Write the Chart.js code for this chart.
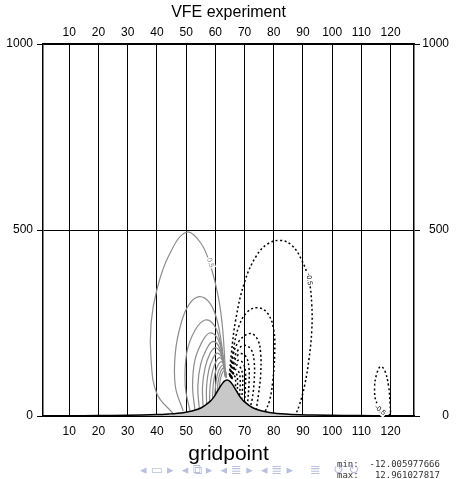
<!DOCTYPE html>
<html lang="en">
<head>
    <meta charset="UTF-8">
    <title>VFE experiment</title>
    <script src="https://cdn.jsdelivr.net/npm/chart.js@4.4.0/dist/chart.umd.min.js"></script>
    <style>
        * { margin: 0; padding: 0; box-sizing: border-box; }
        body { background: #fff; width: 467px; height: 479px; overflow: hidden; }
        #wrap { position: relative; width: 467px; height: 479px; }
    </style>
</head>
<body>
<div id="wrap"><canvas id="chart" width="467" height="479"></canvas></div>
<script>
// axis ticks
const xTicks = [10, 20, 30, 40, 50, 60, 70, 80, 90, 100, 110, 120];
const yTicks = [0, 500, 1000];

// terrain profile
const hillX = [1, 10, 20, 30, 40, 44, 49, 52, 54, 56, 58, 59, 60, 61, 62, 63, 64, 65, 66, 67, 68, 69, 70, 72, 74, 76, 79, 84, 89, 94, 104, 114, 128];
const hillY = [0.5, 0.8, 1.1, 1.9, 3.7, 5.5, 9, 13.5, 18, 26, 38, 46, 57, 70, 83, 93, 97, 93, 83, 70, 57, 46, 38, 26, 18, 13.5, 9, 5.5, 3.5, 2.4, 1.4, 0.9, 0.5];

// positive contours (grey, solid) upstream of the hill
const posContours = [
    [[45.5, 7], [40, 60], [38, 150], [38, 250], [40, 340], [44, 430], [50, 494], [55, 465], [58.5, 400], [61, 320], [62.3, 250], [63, 180], [63.5, 110]],
    [[49, 13], [46.3, 80], [46.3, 170], [48.3, 250], [51, 300], [54.5, 321], [58, 305], [60.5, 260], [62, 200], [63, 140], [63.5, 105]],
    [[51.3, 14], [49.7, 80], [50.2, 170], [53, 230], [56.5, 258], [59.5, 245], [61.5, 205], [62.7, 150], [63.3, 108]],
    [[53, 17], [52.2, 80], [53, 150], [55.5, 200], [58, 223], [60.5, 212], [62, 180], [63, 135], [63.4, 105]],
    [[54.5, 20], [54, 80], [55, 140], [57, 180], [59, 200], [61, 190], [62.3, 160], [63.1, 125], [63.5, 104]],
    [[55.8, 24], [55.6, 80], [56.5, 130], [58, 165], [59.8, 183], [61.5, 175], [62.5, 150], [63.2, 120], [63.6, 103]],
    [[57, 30], [57, 80], [57.8, 125], [59.2, 155], [60.6, 169], [62, 160], [62.9, 138], [63.5, 112], [63.7, 102]],
    [[58, 37], [58.2, 80], [59, 120], [60.2, 146], [61.3, 157], [62.4, 150], [63.1, 130], [63.6, 108]],
    [[59, 44], [59.3, 85], [60, 118], [61, 138], [62, 146], [62.8, 140], [63.3, 124], [63.7, 106]],
    [[59.8, 55], [60.2, 90], [60.9, 117], [61.8, 132], [62.5, 137], [63.1, 130], [63.6, 115], [63.8, 104]],
    [[60.6, 64], [61, 95], [61.7, 117], [62.4, 127], [63, 129], [63.5, 120], [63.8, 106]],
    [[61.3, 72], [61.7, 98], [62.3, 114], [62.9, 121], [63.4, 117], [63.8, 107]]
];

// negative contours (black, dashed) downstream of the hill
const negContours = [
    [[64.8, 110], [65.5, 170], [67, 260], [70, 360], [74, 430], [78, 463], [82.2, 472], [86, 460], [89.5, 420], [92, 366], [93, 300], [93, 230], [92, 150], [90.5, 80], [88.8, 30], [87.5, 4]],
    [[64.9, 108], [66, 170], [68, 240], [71, 280], [74.7, 291], [78, 275], [80, 230], [80.3, 168], [79.6, 90], [78.5, 40], [77, 11]],
    [[65, 106], [66, 160], [68, 200], [71.9, 222], [74.5, 205], [75.5, 168], [75.5, 110], [74.8, 60], [74, 18]],
    [[65.1, 105], [66, 145], [68, 180], [70, 190], [72.3, 178], [73.3, 145], [73.3, 95], [72.6, 45], [72, 26]],
    [[65.2, 104], [66.2, 140], [67.5, 162], [68.8, 168], [70.6, 158], [71.5, 130], [71.5, 85], [71, 31]],
    [[65.3, 103], [66.3, 130], [67.2, 146], [68, 150], [69.5, 142], [70.3, 118], [70.3, 80], [70, 38]],
    [[65.4, 102], [66.2, 122], [67.3, 137], [68.6, 130], [69.3, 110], [69.3, 75], [69, 46]],
    [[65.5, 101], [66.1, 115], [66.8, 125], [67.9, 120], [68.5, 100], [68.3, 54]],
    [[65.5, 100], [66.4, 116], [67.3, 112], [67.6, 95], [67.5, 64]],
    [[65.6, 99], [66.1, 108], [66.8, 105], [66.9, 85], [66.8, 74]],
    [[120, 2], [118.3, 12], [115.3, 35], [114.5, 75], [115.3, 115], [116.6, 133], [118, 122], [119.3, 80], [119.8, 35], [120, 2]]
];

// contour labels
const contourLabels = [
    { x: 58.3, y: 412, text: '0.5', angle: 72, color: '#808080' },
    { x: 92.1, y: 368, text: '-0.5', angle: 82, color: '#000' },
    { x: 116.4, y: 16, text: '-0.5', angle: 40, color: '#000' }
];

const datasets = [];
datasets.push({
    data: hillX.map((x, i) => ({ x: x, y: hillY[i] })),
    borderColor: '#000',
    borderWidth: 1.5,
    backgroundColor: '#c8c8c8',
    fill: { value: 0 },
    tension: 0.3,
    pointRadius: 0,
    showLine: true,
    order: 0
});
posContours.forEach(c => {
    datasets.push({
        data: c.map(p => ({ x: p[0], y: p[1] })),
        borderColor: '#8c8c8c',
        borderWidth: 1.2,
        tension: 0.4,
        pointRadius: 0,
        showLine: true,
        fill: false,
        order: 1
    });
});
negContours.forEach(c => {
    datasets.push({
        data: c.map(p => ({ x: p[0], y: p[1] })),
        borderColor: '#000',
        borderWidth: 1.5,
        borderDash: [2, 2.5],
        tension: 0.4,
        pointRadius: 0,
        showLine: true,
        fill: false,
        order: 1
    });
});

const labelPlugin = {
    id: 'contourLabels',
    afterDatasetsDraw(chart) {
        const ctx = chart.ctx;
        const xs = chart.scales.x, ys = chart.scales.y;
        ctx.save();
        ctx.font = '7px "Liberation Sans", Arial, sans-serif';
        ctx.textAlign = 'center';
        ctx.textBaseline = 'middle';
        contourLabels.forEach(l => {
            ctx.save();
            ctx.translate(xs.getPixelForValue(l.x), ys.getPixelForValue(l.y));
            ctx.rotate(l.angle * Math.PI / 180);
            const w = ctx.measureText(l.text).width;
            ctx.fillStyle = '#fff';
            ctx.fillRect(-w / 2 - 1, -4, w + 2, 8);
            ctx.fillStyle = l.color;
            ctx.fillText(l.text, 0, 0);
            ctx.restore();
        });
        ctx.restore();
    }
};

// slide footer: navigation symbols and min/max readout
const footerPlugin = {
    id: 'footer',
    afterDraw(chart) {
        const ctx = chart.ctx;
        ctx.save();
        ctx.font = '9px "DejaVu Sans Mono", monospace';
        ctx.fillStyle = '#333';
        ctx.textBaseline = 'middle';
        ctx.fillText('min:  -12.005977666', 337, 465);
        ctx.fillText('max:   12.961027817', 337, 476);
        ctx.font = '13px "DejaVu Sans", sans-serif';
        ctx.fillStyle = 'rgba(130,140,190,0.55)';
        ctx.fillText('◂ ▭ ▸  ◂ ⧉ ▸  ◂ ≣ ▸  ◂ ≣ ▸', 140, 471);
        ctx.fillText('≣   ↺ ↻', 310, 471);
        ctx.restore();
    }
};

const tickFont = { family: '"Liberation Sans", Arial, sans-serif', size: 12 };
const plain = v => String(v);

new Chart(document.getElementById('chart'), {
    type: 'scatter',
    data: { datasets: datasets },
    options: {
        responsive: false,
        animation: false,
        layout: { padding: { left: 0, right: 18 } },
        plugins: {
            legend: { display: false },
            tooltip: { enabled: false },
            title: {
                display: true,
                fullSize: false,
                text: 'VFE experiment',
                color: '#000',
                font: { family: '"Liberation Sans", Arial, sans-serif', size: 16, weight: 'normal' },
                padding: { top: 3, bottom: 0 }
            }
        },
        scales: {
            x: {
                type: 'linear',
                position: 'bottom',
                min: 1,
                max: 128,
                afterBuildTicks: s => { s.ticks = xTicks.map(v => ({ value: v })); },
                ticks: { color: '#000', font: tickFont, padding: 8, maxRotation: 0, autoSkip: false, callback: plain },
                grid: { color: '#000', lineWidth: 1, drawTicks: false, tickLength: 0 },
                border: { color: '#000', width: 1.5 },
                title: {
                    display: true,
                    text: 'gridpoint',
                    color: '#000',
                    font: { family: '"Liberation Sans", Arial, sans-serif', size: 21 },
                    padding: { top: 0, bottom: 12 }
                },
                afterFit: s => { s.height = 63; }
            },
            x2: {
                type: 'linear',
                position: 'top',
                min: 1,
                max: 128,
                afterBuildTicks: s => { s.ticks = xTicks.map(v => ({ value: v })); },
                ticks: { color: '#000', font: tickFont, padding: 4, maxRotation: 0, autoSkip: false, callback: plain },
                grid: { display: false, drawTicks: false, tickLength: 0 },
                border: { color: '#000', width: 1.5 },
                afterFit: s => { s.height = 21.8; }
            },
            y: {
                type: 'linear',
                position: 'left',
                min: 0,
                max: 1000,
                afterBuildTicks: s => { s.ticks = yTicks.map(v => ({ value: v })); },
                ticks: { color: '#000', font: tickFont, padding: 4, callback: plain },
                grid: { color: '#000', lineWidth: 1, tickLength: 6 },
                border: { color: '#000', width: 1.5 },
                afterFit: s => { s.width = 43; }
            },
            y2: {
                type: 'linear',
                position: 'right',
                min: 0,
                max: 1000,
                afterBuildTicks: s => { s.ticks = yTicks.map(v => ({ value: v })); },
                ticks: { color: '#000', font: tickFont, padding: 3, crossAlign: 'far', callback: plain },
                grid: { color: '#000', lineWidth: 1, tickLength: 6, drawOnChartArea: false },
                border: { color: '#000', width: 1.5 },
                afterFit: s => { s.width = 35; }
            }
        }
    },
    plugins: [labelPlugin, footerPlugin]
});
</script>
</body>
</html>
